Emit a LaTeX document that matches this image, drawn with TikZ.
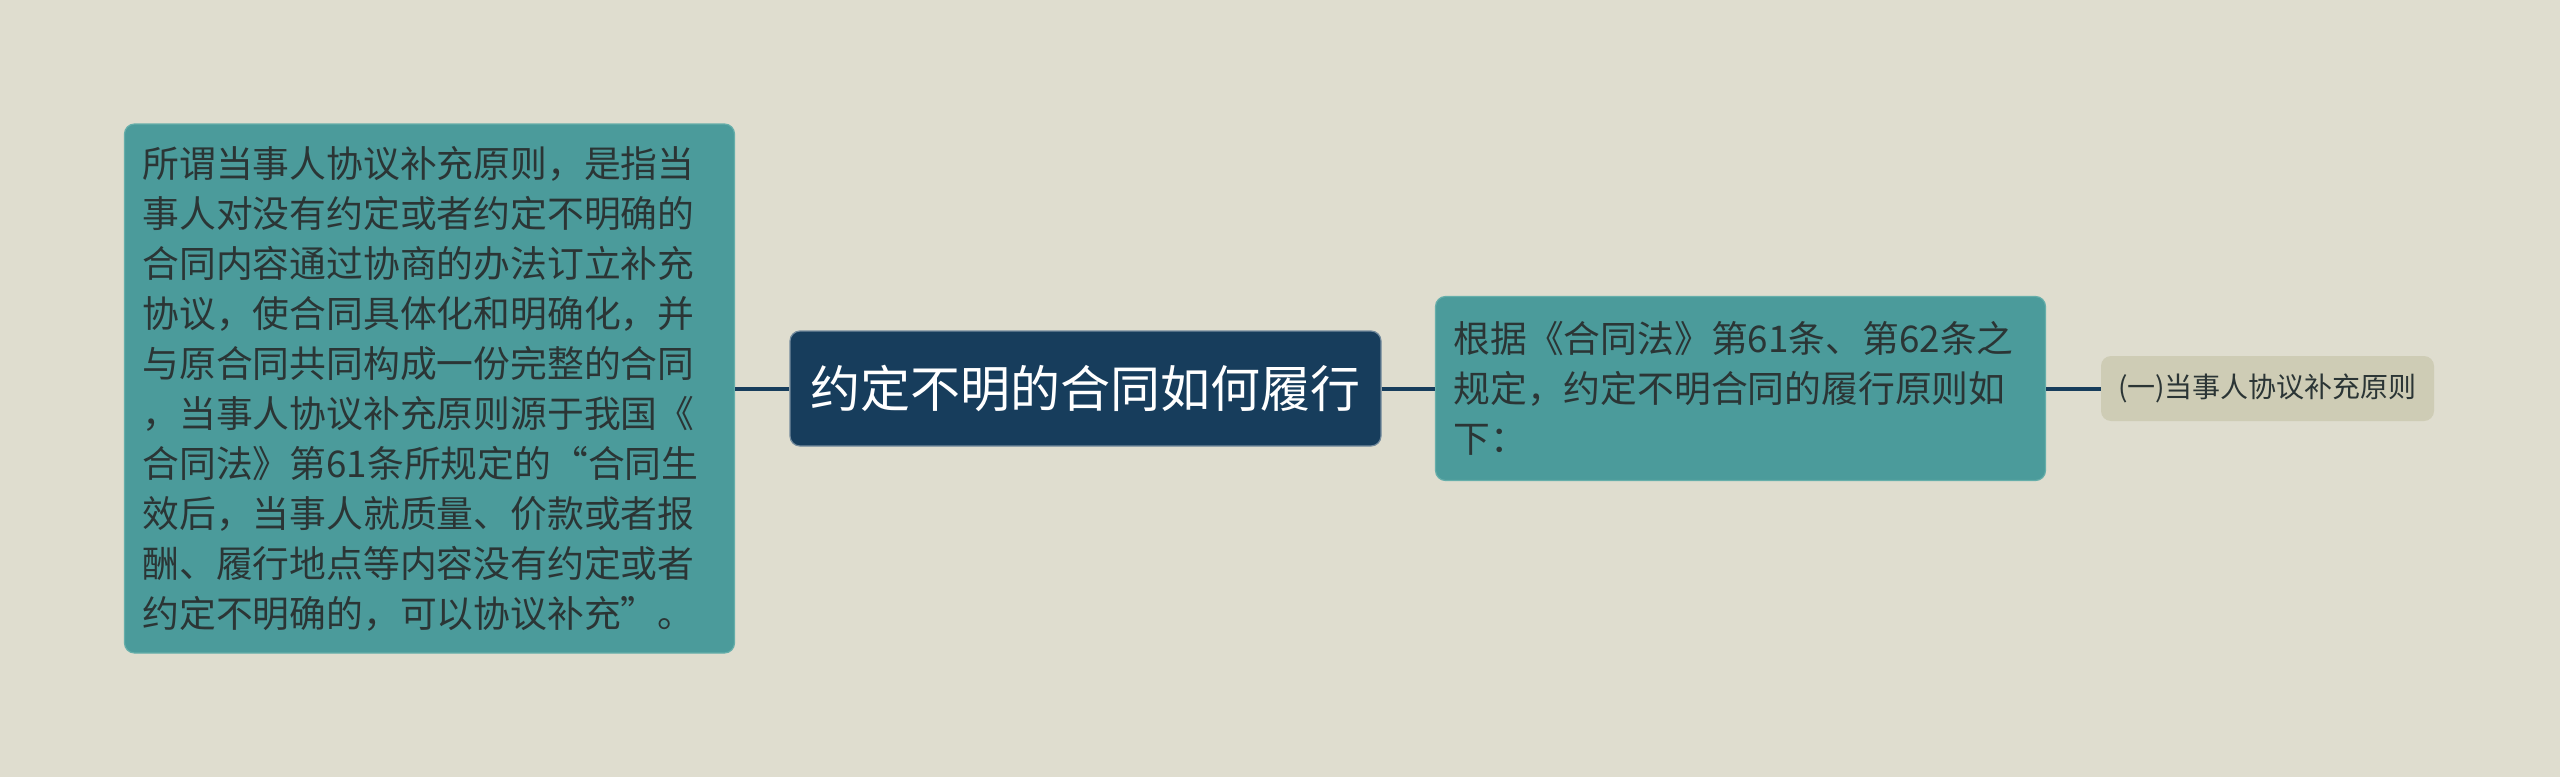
\documentclass[tikz,border=0pt]{standalone}
\usepackage{fontspec}
\newfontfamily\cjk{Noto Sans CJK SC}
\usetikzlibrary{positioning}

\definecolor{paper}{HTML}{DFDDCF}
\definecolor{tealbox}{HTML}{4B9B9B}
\definecolor{tealedge}{HTML}{66AEAA}
\definecolor{navy}{HTML}{173D5C}
\definecolor{sandbox}{HTML}{CECCB5}
\definecolor{inktext}{HTML}{2B3535}

\begin{document}
\begin{tikzpicture}[x=0.5pt,y=-0.5pt,
    topic/.style={rounded corners=5pt,fill=navy,draw=navy!60!white,line width=0.6pt,
        text=white,font=\cjk\fontsize{25}{30}\selectfont,
        minimum width=295.5pt,minimum height=57.5pt,inner sep=0pt},
    detail/.style={rounded corners=5pt,fill=tealbox,draw=tealedge,line width=0.6pt,
        text=inktext,font=\cjk\fontsize{18.4}{25}\selectfont,
        text width=287pt,align=left,inner xsep=9pt,inner ysep=0pt},
    leaf/.style={rounded corners=5pt,fill=sandbox,
        text=inktext,font=\cjk\fontsize{14}{17}\selectfont,
        minimum width=166.5pt,minimum height=32.5pt,inner sep=0pt},
    link/.style={draw=navy,line width=2pt}]
        % Background
        \fill [paper] (0,0) rectangle (2560,777);
        \useasboundingbox (0,0) rectangle (2560,777);
        % Nodes
        \node (main) at (1085.5,388.5) [topic] {约定不明的合同如何履行};
        \node (left) at (429.5,388.5) [detail,minimum height=264.5pt]
            {所谓当事人协议补充原则，是指当\\事人对没有约定或者约定不明确的\\合同内容通过协商的办法订立补充\\协议，使合同具体化和明确化，并\\与原合同共同构成一份完整的合同\\，当事人协议补充原则源于我国《\\合同法》第61条所规定的“合同生\\效后，当事人就质量、价款或者报\\酬、履行地点等内容没有约定或者\\约定不明确的，可以协议补充”。};
        \node (right) at (1740.5,388.5) [detail,minimum height=92pt]
            {根据《合同法》第61条、第62条之\\规定，约定不明合同的履行原则如\\下：};
        \node (first) at (2267.5,388.5) [leaf] {(一)当事人协议补充原则};
        % Connectors
        \draw [link] (left.east) -- (main.west);
        \draw [link] (main.east) -- (right.west);
        \draw [link] (right.east) -- (first.west);
\end{tikzpicture}
\end{document}
